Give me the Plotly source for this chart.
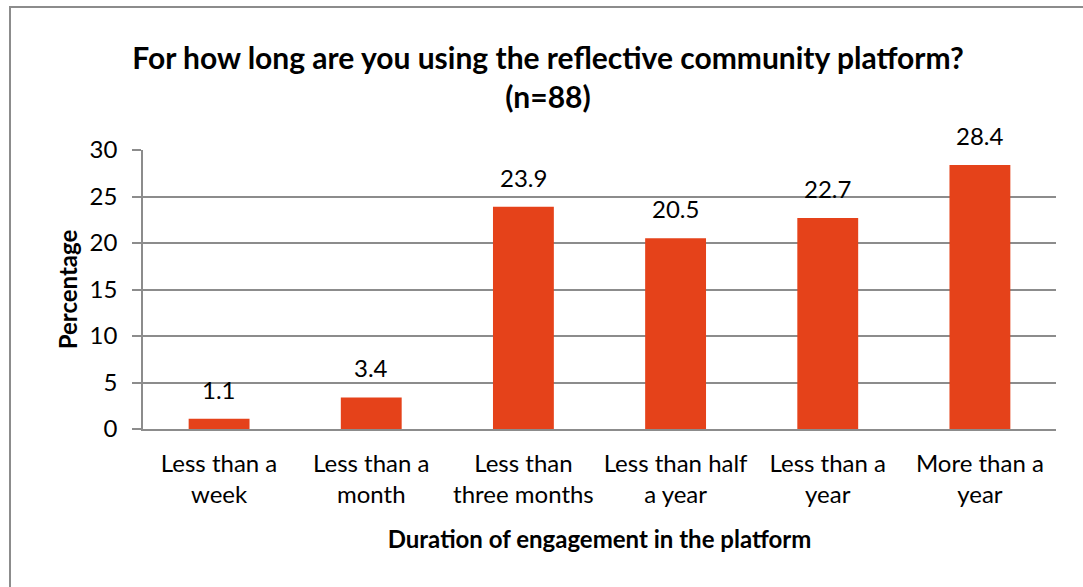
import plotly.graph_objects as go

# Survey results: duration of engagement with the platform (n=88)
categories = [
    "Less than a<br>week",
    "Less than a<br>month",
    "Less than<br>three months",
    "Less than half<br>a year",
    "Less than a<br>year",
    "More than a<br>year",
]
percentages = [1.1, 3.4, 23.9, 20.5, 22.7, 28.4]
y_ticks = [0, 5, 10, 15, 20, 25, 30]

BAR_COLOR = "#E5421A"
GRID_COLOR = "#8C8C8C"
FONT = "Lato, 'Open Sans', sans-serif"
TXT = 24

W, H = 1083, 587
L, R, T, B = 143, 27, 150, 158
plot_w = W - L - R
plot_h = H - T - B

fig = go.Figure()
fig.add_trace(
    go.Bar(
        x=categories,
        y=percentages,
        marker=dict(color=BAR_COLOR, line=dict(width=0)),
        width=0.4,
        hoverinfo="x+y",
    )
)

# value labels above each bar
for cat, val in zip(categories, percentages):
    fig.add_annotation(
        x=cat, y=val, text=f"{val:.1f}", showarrow=False,
        yanchor="bottom", yshift=13,
        font=dict(family=FONT, size=TXT, color="#000000"),
    )

# outer chart frame
fig.add_shape(
    type="rect", xref="paper", yref="paper",
    x0=(10 - L) / plot_w, x1=1.3,
    y0=-1.0, y1=(H - B - 7) / plot_h,
    line=dict(color=GRID_COLOR, width=2), fillcolor="rgba(0,0,0,0)",
    layer="below",
)

fig.update_layout(
    width=W, height=H,
    margin=dict(l=L, r=R, t=T, b=B, autoexpand=False),
    paper_bgcolor="white", plot_bgcolor="white",
    showlegend=False,
    font=dict(family=FONT, size=TXT, color="#000000"),
    title=dict(
        text="For how long are you using the reflective community platform?<br>(n=88)",
        x=548 / W, xanchor="center", xref="container",
        y=1 - 69 / H, yanchor="middle", yref="container",
        font=dict(family=FONT, size=30, color="#000000", weight="bold"),
    ),
    bargap=0.6,
)

fig.update_yaxes(
    range=[0, 30], tickvals=y_ticks,
    showgrid=True, gridcolor=GRID_COLOR, gridwidth=1.5,
    showline=True, linecolor=GRID_COLOR, linewidth=1.5,
    ticks="outside", ticklen=9, tickcolor=GRID_COLOR, tickwidth=1.5,
    ticklabelstandoff=10,
    tickfont=dict(family=FONT, size=TXT),
    zeroline=False,
    title=dict(text="Percentage", standoff=5,
               font=dict(family=FONT, size=TXT, weight="bold")),
    fixedrange=True,
)
fig.update_xaxes(
    showline=True, linecolor=GRID_COLOR, linewidth=2,
    ticks="", showgrid=False,
    tickfont=dict(family=FONT, size=TXT),
    ticklabelstandoff=12,
    title=dict(text="Duration of engagement in the platform", standoff=24,
               font=dict(family=FONT, size=TXT, weight="bold")),
    fixedrange=True,
)

fig.write_html("out.html")
